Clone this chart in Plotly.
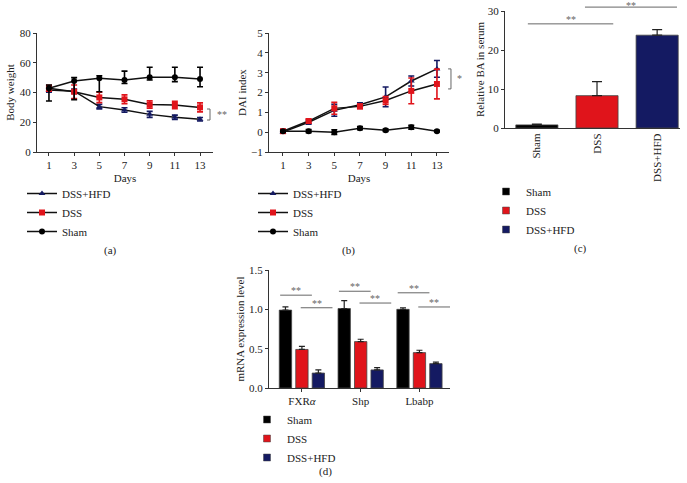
import plotly.graph_objects as go

W, H = 687, 483
FONT = "Liberation Serif"

# ---------------- data ----------------
days = [1, 3, 5, 7, 9, 11, 13]
groups = ["Sham", "DSS", "DSS+HFD"]
colors = {"Sham": "#000000", "DSS": "#e0141b", "DSS+HFD": "#141a62"}
symbols = {"Sham": "circle", "DSS": "square", "DSS+HFD": "triangle-up"}

# (a) body weight
bw_sham = [42.8, 47.7, 49.5, 48.4, 50.2, 50.2, 49.0]
bw_sham_up = [2.2, 2.3, 1.8, 6.0, 6.8, 6.8, 8.0]
bw_sham_dn = [8.5, 12.5, 9.0, 2.4, 1.8, 2.9, 5.1]
bw_dss = [42.8, 40.5, 36.7, 35.4, 32.0, 31.6, 30.0]
bw_dss_err = [2.0, 4.5, 3.5, 3.0, 2.5, 2.5, 3.0]
bw_hfd = [41.7, 40.9, 30.5, 28.2, 25.3, 23.3, 22.0]
bw_hfd_err = [1.5, 1.5, 1.5, 1.5, 2.0, 1.5, 1.2]

# (b) DAI index
dai_sham = [0.05, 0.05, 0.0, 0.2, 0.1, 0.25, 0.05]
dai_sham_err = [0.05, 0.08, 0.12, 0.08, 0.06, 0.1, 0.04]
dai_dss = [0.05, 0.56, 1.2, 1.3, 1.6, 2.08, 2.43]
dai_dss_err = [0.08, 0.1, 0.3, 0.12, 0.2, 0.65, 0.75]
dai_hfd = [0.0, 0.5, 1.1, 1.38, 1.78, 2.58, 3.19]
dai_hfd_err = [0.05, 0.1, 0.3, 0.1, 0.5, 0.25, 0.42]

# (c) relative BA in serum
ba_vals = [0.8, 8.3, 23.8]
ba_err = [0.2, 3.6, 1.4]

# (d) mRNA expression
genes = ["FXR<i>α</i>", "Shp", "Lbabp"]
mrna = {"Sham": [0.99, 1.01, 1.00], "DSS": [0.49, 0.59, 0.45], "DSS+HFD": [0.19, 0.23, 0.31]}
mrna_err = {"Sham": [0.04, 0.10, 0.02], "DSS": [0.04, 0.03, 0.03], "DSS+HFD": [0.04, 0.03, 0.02]}

# significance markers
sig_a = (21.5, 28.9, "**")          # bracket lower, upper
sig_b = (2.18, 3.19, "*")
sig_c = [(-0.15, 1.27, 26.7, "**"), (0.8, 2.33, 31.0, "**")]
sig_d_levels = [(1.18, 1.02), (1.23, 1.08), (1.21, 1.03)]

# ---------------- helpers ----------------
def dx(a, b):
    return [a / W, b / W]

def dy(top, bottom):
    return [1 - bottom / H, 1 - top / H]

axis_style = dict(showline=True, linecolor="#333", linewidth=1.2, ticks="outside",
                  ticklen=3, tickwidth=1.2, tickcolor="#333", showgrid=False,
                  zeroline=False, automargin=False,
                  tickfont=dict(family=FONT, size=11, color="#222"))
title_font = dict(family=FONT, size=11, color="#222")

fig = go.Figure()

def line_trace(x, y, up, dn, g, xa, ya, lg):
    return go.Scatter(
        x=x, y=y, mode="lines+markers", name=g,
        line=dict(color="#111", width=1.5),
        marker=dict(color=colors[g], symbol=symbols[g], size=6),
        error_y=dict(type="data", array=up, arrayminus=dn, symmetric=False,
                     color=colors[g], thickness=1.6, width=3),
        xaxis=xa, yaxis=ya, legend=lg, cliponaxis=False)

# (a)
fig.add_trace(line_trace(days, bw_hfd, bw_hfd_err, bw_hfd_err, "DSS+HFD", "x", "y", "legend"))
fig.add_trace(line_trace(days, bw_dss, bw_dss_err, bw_dss_err, "DSS", "x", "y", "legend"))
fig.add_trace(line_trace(days, bw_sham, bw_sham_up, bw_sham_dn, "Sham", "x", "y", "legend"))
# (b)
fig.add_trace(line_trace(days, dai_hfd, dai_hfd_err, dai_hfd_err, "DSS+HFD", "x2", "y2", "legend2"))
fig.add_trace(line_trace(days, dai_dss, dai_dss_err, dai_dss_err, "DSS", "x2", "y2", "legend2"))
fig.add_trace(line_trace(days, dai_sham, dai_sham_err, dai_sham_err, "Sham", "x2", "y2", "legend2"))

# (c)
for i, g in enumerate(groups):
    fig.add_trace(go.Bar(
        x=[i], y=[ba_vals[i]], width=0.7, name=g, showlegend=False,
        marker=dict(color=colors[g], line=dict(color="#444", width=0.8)),
        error_y=dict(type="data", array=[ba_err[i]], arrayminus=[0], symmetric=False,
                     color="#222", thickness=1.2, width=5),
        xaxis="x3", yaxis="y3"))

# (d)
offsets = [-0.28, 0.0, 0.28]
for k, g in enumerate(groups):
    fig.add_trace(go.Bar(
        x=[j + offsets[k] for j in range(len(genes))], y=mrna[g], width=0.21, name=g,
        showlegend=False,
        marker=dict(color=colors[g], line=dict(color="#444", width=0.8)),
        error_y=dict(type="data", array=mrna_err[g], arrayminus=[0] * 3, symmetric=False,
                     color="#222", thickness=1.2, width=3),
        xaxis="x4", yaxis="y4"))

# legend keys for the bar panels (small squares, as in the original figure)
for lg, xa, ya in [("legend3", "x3", "y3"), ("legend4", "x4", "y4")]:
    for g in groups:
        fig.add_trace(go.Scatter(
            x=[None], y=[None], mode="markers", name=g,
            marker=dict(color=colors[g], symbol="square", size=7,
                        line=dict(color="#444", width=0.5)),
            xaxis=xa, yaxis=ya, legend=lg))

shapes = []
annots = []
sig_line = dict(color="#666", width=1)
sig_font = dict(family=FONT, size=10, color="#666")

# (a) bracket
lo, hi, txt = sig_a
shapes.append(dict(type="path", xref="x domain", yref="y",
                   path=f"M 0.966,{hi} L 0.983,{hi} L 0.983,{lo} L 0.966,{lo}", line=sig_line))
annots.append(dict(xref="x domain", yref="y", x=1.01, y=(lo + hi) / 2, text=txt,
                   showarrow=False, xanchor="left", yanchor="middle", font=sig_font))
# (b) bracket
lo, hi, txt = sig_b
shapes.append(dict(type="path", xref="x2 domain", yref="y2",
                   path=f"M 0.995,{hi} L 1.011,{hi} L 1.011,{lo} L 0.995,{lo}", line=sig_line))
annots.append(dict(xref="x2 domain", yref="y2", x=1.035, y=(lo + hi) / 2, text=txt,
                   showarrow=False, xanchor="left", yanchor="middle", font=sig_font))
# (c)
for x0, x1, yv, txt in sig_c:
    shapes.append(dict(type="line", xref="x3", yref="y3 domain", x0=x0, x1=x1,
                       y0=yv / 30, y1=yv / 30, line=sig_line))
    annots.append(dict(xref="x3", yref="y3 domain", x=(x0 + x1) / 2, y=yv / 30, text=txt,
                       showarrow=False, yanchor="bottom", yshift=-6 if yv > 30 else -3,
                       font=sig_font))
# (d)
for j, (l1, l2) in enumerate(sig_d_levels):
    for (a, b), yv in zip([(-0.37, 0.17), (-0.02, 0.52)], [l1, l2]):
        shapes.append(dict(type="line", xref="x4", yref="y4", x0=j + a, x1=j + b,
                           y0=yv, y1=yv, line=sig_line))
        annots.append(dict(xref="x4", yref="y4", x=j + (a + b) / 2, y=yv, text="**",
                           showarrow=False, yanchor="bottom", yshift=-3, font=sig_font))

# panel labels
for lbl, px, py in [("(a)", 110, 250), ("(b)", 348, 250), ("(c)", 580, 248), ("(d)", 325, 471)]:
    annots.append(dict(xref="paper", yref="paper", x=px / W, y=1 - py / H, text=lbl,
                       showarrow=False, xanchor="center", yanchor="middle",
                       font=dict(family=FONT, size=11, color="#222")))

legend_common = dict(xanchor="left", yanchor="top", bgcolor="rgba(0,0,0,0)",
                     font=dict(family=FONT, size=11, color="#222"), itemwidth=30,
                     traceorder="normal", borderwidth=0)

fig.update_layout(
    template="none",
    width=W, height=H, margin=dict(l=0, r=0, t=0, b=0, autoexpand=False),
    paper_bgcolor="white", plot_bgcolor="white", barmode="overlay",
    font=dict(family=FONT, size=11, color="#222"),
    xaxis=dict(axis_style, domain=dx(37, 213), range=[0.05, 14.03], tickvals=days,
               anchor="y", title=dict(text="Days", font=title_font, standoff=4)),
    yaxis=dict(axis_style, domain=dy(33, 152), range=[0, 80], tickvals=[0, 20, 40, 60, 80],
               anchor="x", title=dict(text="Body weight", font=title_font, standoff=2)),
    xaxis2=dict(axis_style, domain=dx(269, 449), range=[-0.09, 13.94], tickvals=days,
                anchor="y2", title=dict(text="Days", font=title_font, standoff=4)),
    yaxis2=dict(axis_style, domain=dy(33, 152), range=[-1, 5], tickvals=[-1, 0, 1, 2, 3, 4, 5],
                anchor="x2", title=dict(text="DAI index", font=title_font, standoff=2)),
    xaxis3=dict(axis_style, domain=dx(505, 680), range=[-0.53, 2.38], tickvals=[0, 1, 2],
                ticktext=groups, tickangle=-90, ticks="", anchor="y3"),
    yaxis3=dict(axis_style, domain=dy(11, 128), range=[0, 30], tickvals=[0, 10, 20, 30],
                anchor="x3",
                title=dict(text="Relative BA in serum", font=title_font, standoff=0)),
    xaxis4=dict(axis_style, domain=dx(269, 450), range=[-0.56, 2.52], tickvals=[0, 1, 2],
                ticktext=genes, anchor="y4"),
    yaxis4=dict(axis_style, domain=dy(270, 388), range=[0, 1.5],
                tickvals=[0, 0.5, 1.0, 1.5], tickformat=".1f", anchor="x4",
                title=dict(text="mRNA expression level", font=title_font, standoff=2)),
    legend=dict(legend_common, x=22 / W, y=1 - 179 / H),
    legend2=dict(legend_common, x=253 / W, y=1 - 179 / H),
    legend3=dict(legend_common, x=486 / W, y=1 - 177 / H),
    legend4=dict(legend_common, x=247 / W, y=1 - 405 / H),
    shapes=shapes, annotations=annots, showlegend=True,
)

fig.write_html("out.html", config={"displayModeBar": False},
               post_script="document.body.style.margin='0';document.body.style.overflow='hidden';")
